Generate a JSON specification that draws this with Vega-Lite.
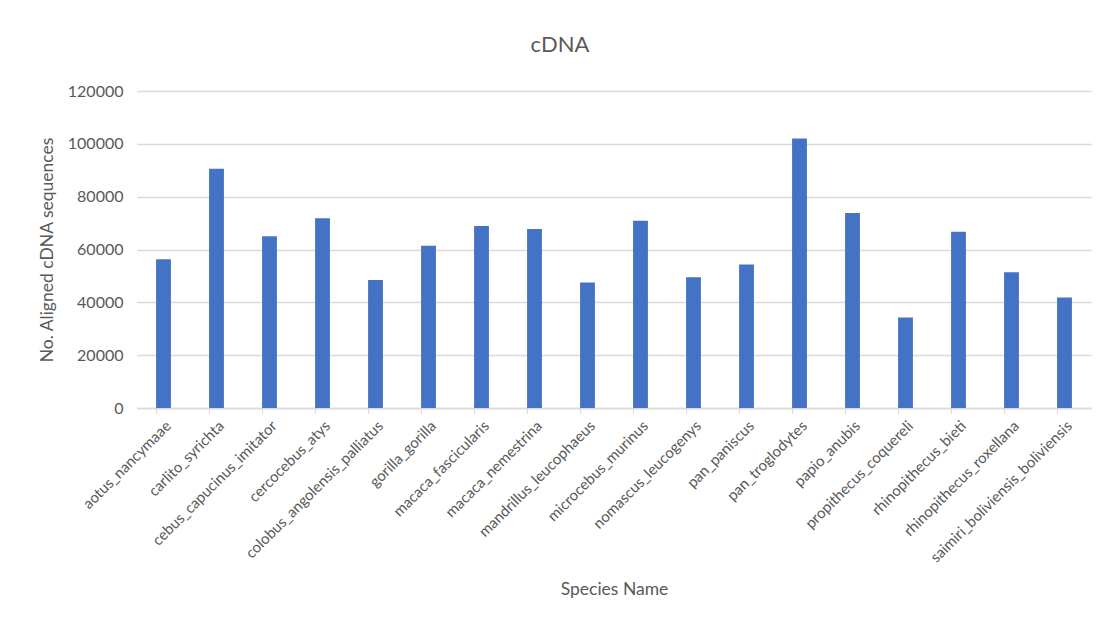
{
  "$schema": "https://vega.github.io/schema/vega-lite/v6.json",
  "width": 954,
  "height": 317,
  "autosize": {"type": "none"},
  "padding": {"left": 137, "top": 91, "right": 13, "bottom": 212},
  "background": "white",
  "title": {"text": "cDNA", "fontSize": 22, "font": "Lato", "fontWeight": "normal", "color": "#595959", "offset": 26, "anchor": "middle", "dx": -54},
  "data": {"values": [
    {"species": "aotus_nancymaae", "count": 56300},
    {"species": "carlito_syrichta", "count": 90550},
    {"species": "cebus_capucinus_imitator", "count": 65000},
    {"species": "cercocebus_atys", "count": 71800},
    {"species": "colobus_angolensis_palliatus", "count": 48500},
    {"species": "gorilla_gorilla", "count": 61460},
    {"species": "macaca_fascicularis", "count": 68900},
    {"species": "macaca_nemestrina", "count": 67760},
    {"species": "mandrillus_leucophaeus", "count": 47480},
    {"species": "microcebus_murinus", "count": 70900},
    {"species": "nomascus_leucogenys", "count": 49500},
    {"species": "pan_paniscus", "count": 54280},
    {"species": "pan_troglodytes", "count": 102000},
    {"species": "papio_anubis", "count": 73800},
    {"species": "propithecus_coquereli", "count": 34260},
    {"species": "rhinopithecus_bieti", "count": 66750},
    {"species": "rhinopithecus_roxellana", "count": 51390},
    {"species": "saimiri_boliviensis_boliviensis", "count": 41810}
  ]},
  "mark": {"type": "bar", "color": "#4472C4"},
  "encoding": {
    "x": {
      "field": "species", "type": "nominal", "sort": null,
      "scale": {"paddingInner": 0.72, "paddingOuter": 0.36},
      "axis": {
        "title": "Species Name", "titleFont": "Lato", "titleFontSize": 17.5, "titleFontWeight": "normal", "titleColor": "#595959", "titlePadding": 16,
        "labelAngle": -45, "labelFont": "Lato", "labelFontSize": 15, "labelColor": "#595959", "labelPadding": 5, "labelLimit": 400,
        "bandPosition": 0, "tickSize": 5, "tickColor": "#d9d9d9", "domainColor": "#d9d9d9", "domainWidth": 1.5, "grid": false
      }
    },
    "y": {
      "field": "count", "type": "quantitative",
      "scale": {"domain": [0, 120000]},
      "axis": {
        "title": "No. Aligned cDNA sequences", "titleFont": "Lato", "titleFontSize": 17.5, "titleFontWeight": "normal", "titleColor": "#595959", "titlePadding": 11,
        "values": [0, 20000, 40000, 60000, 80000, 100000, 120000], "format": "d",
        "labelFont": "Lato", "labelFontSize": 16, "labelColor": "#595959", "labelPadding": 14,
        "domain": false, "ticks": false, "grid": true, "gridColor": "#d9d9d9", "gridWidth": 1.5
      }
    }
  },
  "config": {"view": {"stroke": null}}
}
